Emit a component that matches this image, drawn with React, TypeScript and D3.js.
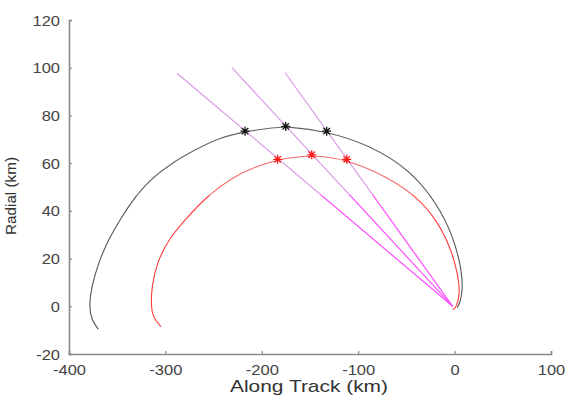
import React, { useEffect, useRef } from 'react';
import * as d3 from 'd3';

// trajectories (km)
const blackX = [-369.6, -376.5, -379.3, -376.5, -369.6, -359.2, -347.1, -331.5, -314.2, -293.5, -269.3, -245.1, -217.4, -186.3, -175.2, -132.7, -87.8, -46.3, -18.6, -1.3, 7.4, 8.4, 5.6, 2.5];
const blackY = [-9.6, -5.7, -0.1, 8.3, 18.1, 27.9, 36.3, 46.0, 53.7, 60.0, 65.6, 70.5, 73.3, 74.9, 75.4, 73.4, 67.5, 57.2, 43.3, 29.3, 15.3, 6.9, 1.3, -0.6];

const redX = [-304.6, -312.6, -314.9, -314.2, -309.0, -297.0, -279.7, -255.5, -231.2, -210.5, -183.5, -148.2, -111.9, -70.4, -39.3, -18.6, -3.0, 3.8, 5.6, 2.2, -1.7];
const redY = [-8.5, -4.9, -0.1, 8.3, 18.1, 27.9, 36.3, 46.7, 53.7, 57.9, 61.6, 63.5, 61.6, 54.4, 46.0, 36.3, 23.7, 12.5, 5.5, -0.1, -1.5];

const blackStarX = [-217.4, -175.2, -132.7];
const blackStarY = [73.4, 75.4, 73.4];
const redStarX = [-183.5, -148.2, -111.9];
const redStarY = [61.6, 63.5, 61.6];

// line of sight rays from the station
const rayOrigin = [-2, 0];
const rayTopX = [-288, -231, -176];
const rayTopY = [97.7, 100, 98];

const xTicks = [-400, -300, -200, -100, 0, 100];
const yTicks = [-20, 0, 20, 40, 60, 80, 100, 120];

const width = 566;
const height = 402;

export default function App() {
    const ref = useRef<SVGSVGElement>(null);

    useEffect(() => {
        const svg = d3.select(ref.current);
        svg.selectAll('*').remove();

        const x = d3.scaleLinear().domain([-400, 100]).range([69, 551]);
        const y = d3.scaleLinear().domain([-20, 120]).range([354, 20]);
        const font = 'Liberation Sans, Arial, sans-serif';
        const axisColor = '#8a8a8a';
        const textColor = '#444';

        // the upper half of the figure looks washed out in the original
        const splitY = y(47);
        const defs = svg.append('defs');
        defs.append('clipPath').attr('id', 'clipTop')
            .append('rect').attr('x', 0).attr('y', 0).attr('width', width).attr('height', splitY);
        defs.append('clipPath').attr('id', 'clipBottom')
            .append('rect').attr('x', 0).attr('y', splitY).attr('width', width).attr('height', height - splitY);

        const curve = (xs: number[], ys: number[]) =>
            d3.line<number>()
                .x(i => x(xs[i]))
                .y(i => y(ys[i]))
                .curve(d3.curveBasis)(d3.range(xs.length));

        const drawPart = (clip: string, magenta: string, red: string, black: string) => {
            const g = svg.append('g').attr('clip-path', `url(#${clip})`);
            rayTopX.forEach((tx, i) => {
                g.append('line')
                    .attr('x1', x(rayOrigin[0])).attr('y1', y(rayOrigin[1]))
                    .attr('x2', x(tx)).attr('y2', y(rayTopY[i]))
                    .attr('stroke', magenta).attr('stroke-width', 1.2);
            });
            g.append('path')
                .attr('d', curve(blackX, blackY))
                .attr('fill', 'none').attr('stroke', black).attr('stroke-width', 1.1);
            g.append('path')
                .attr('d', curve(redX, redY))
                .attr('fill', 'none').attr('stroke', red).attr('stroke-width', 1.1);
        };
        drawPart('clipBottom', '#ff4dff', '#ff3b3b', '#555');
        drawPart('clipTop', '#d99be6', '#f06a6a', '#666');

        // asterisk markers
        const star = (cx: number, cy: number, r: number) => {
            const p = d3.path();
            const d = r * 0.72;
            p.moveTo(cx - r, cy); p.lineTo(cx + r, cy);
            p.moveTo(cx, cy - r); p.lineTo(cx, cy + r);
            p.moveTo(cx - d, cy - d); p.lineTo(cx + d, cy + d);
            p.moveTo(cx - d, cy + d); p.lineTo(cx + d, cy - d);
            return p.toString();
        };
        blackStarX.forEach((sx, i) => {
            svg.append('path').attr('d', star(x(sx), y(blackStarY[i]), 4.5))
                .attr('stroke', '#111').attr('stroke-width', 1.3).attr('fill', 'none');
        });
        redStarX.forEach((sx, i) => {
            svg.append('path').attr('d', star(x(sx), y(redStarY[i]), 4.5))
                .attr('stroke', '#ff1a1a').attr('stroke-width', 1.3).attr('fill', 'none');
        });

        // axes, ticks pointing inward
        const fmt = (d: d3.NumberValue) => String(d);
        const xAxis = svg.append('g')
            .attr('transform', `translate(0,${y(-20)})`)
            .call(d3.axisTop(x).tickValues(xTicks).tickSize(3).tickFormat(fmt));
        const yAxis = svg.append('g')
            .attr('transform', `translate(${x(-400)},0)`)
            .call(d3.axisRight(y).tickValues(yTicks).tickSize(3).tickFormat(fmt));

        [xAxis, yAxis].forEach(ax => {
            ax.select('.domain').attr('stroke', axisColor).attr('stroke-width', 1.6);
            ax.selectAll('.tick line').attr('stroke', axisColor).attr('stroke-width', 1.2);
            ax.selectAll('.tick text')
                .attr('fill', textColor)
                .attr('font-family', font)
                .attr('font-size', 14);
        });
        xAxis.selectAll('.tick text').attr('dy', null).attr('y', 21);
        yAxis.selectAll('.tick text').attr('text-anchor', 'end').attr('x', -9).attr('dy', '0.36em');

        // the original labels are a bit wider than the font
        svg.selectAll<SVGTextElement, unknown>('.tick text').each(function () {
            const w = this.getComputedTextLength();
            d3.select(this).attr('textLength', w * 1.18).attr('lengthAdjust', 'spacingAndGlyphs');
        });

        svg.append('text')
            .attr('x', 309).attr('y', 392)
            .attr('text-anchor', 'middle')
            .attr('font-family', font)
            .attr('font-size', 17)
            .attr('fill', '#333')
            .attr('textLength', 158)
            .attr('lengthAdjust', 'spacingAndGlyphs')
            .text('Along Track (km)');

        svg.append('text')
            .attr('transform', `translate(16,196) rotate(-90)`)
            .attr('text-anchor', 'middle')
            .attr('font-family', font)
            .attr('font-size', 14)
            .attr('fill', '#333')
            .attr('textLength', 78)
            .attr('lengthAdjust', 'spacingAndGlyphs')
            .text('Radial (km)');
    }, []);

    return (
        <svg ref={ref} width={width} height={height}
            style={{ position: 'absolute', left: 0, top: 0, background: 'white' }} />
    );
}
